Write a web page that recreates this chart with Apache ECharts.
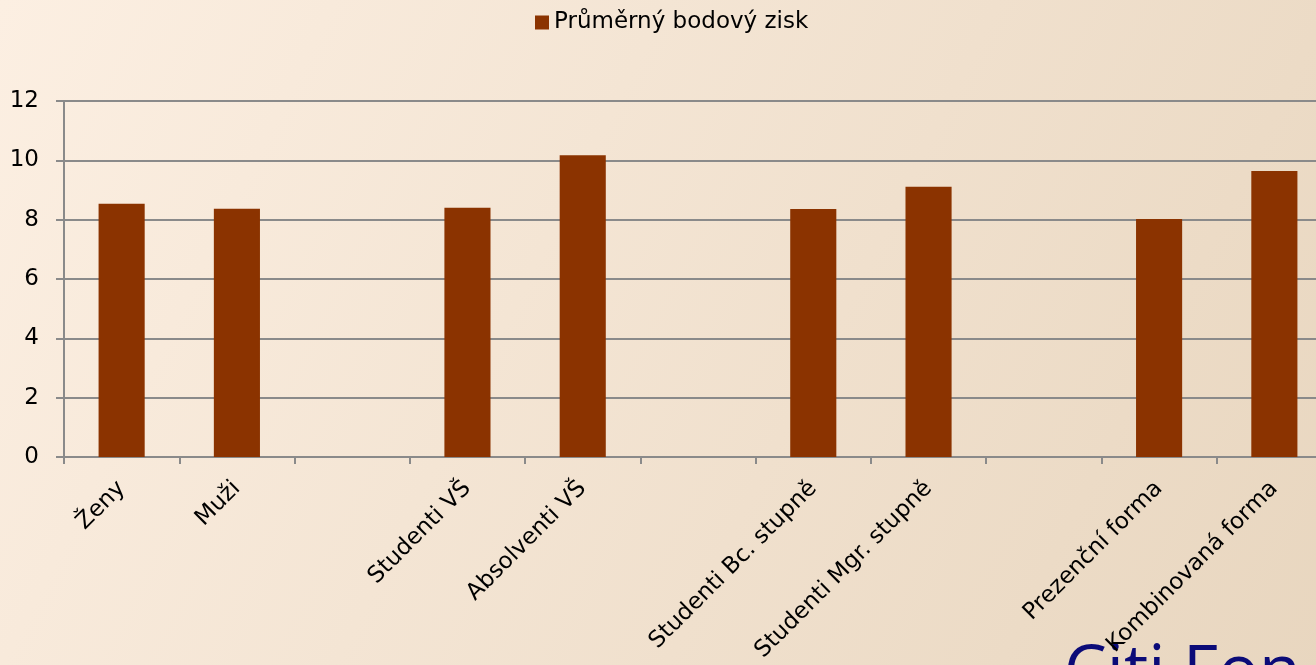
<!DOCTYPE html>
<html>
<head>
<meta charset="utf-8">
<script src="https://cdn.jsdelivr.net/npm/echarts@6/dist/echarts.min.js"></script>
<style>
html,body{margin:0;padding:0;width:1316px;height:665px;overflow:hidden;}
#c{width:1332px;height:665px;}
</style>
</head>
<body>
<div id="c"></div>
<script>
const categories = ['Ženy', 'Muži', '', 'Studenti VŠ', 'Absolventi VŠ', '', 'Studenti Bc. stupně', 'Studenti Mgr. stupně', '', 'Prezenční forma', 'Kombinovaná forma'];
const values = [8.54, 8.37, null, 8.40, 10.17, null, 8.36, 9.11, null, 8.02, 9.64];
const seriesName = 'Průměrný bodový zisk';
const yTicks = { min: 0, max: 12, interval: 2 };

const FONT = 'DejaVu Sans';
const FS = 23;
const chart = echarts.init(document.getElementById('c'), null, { renderer: 'canvas' });
chart.setOption({
  backgroundColor: {
    type: 'linear', x: 0, y: 0, x2: 1, y2: 1,
    colorStops: [{ offset: 0, color: '#fcefe2' }, { offset: 1, color: '#e8d6bf' }]
  },
  textStyle: { fontFamily: FONT },
  animation: false,
  legend: {
    left: 530, top: 6,
    itemWidth: 14, itemHeight: 14, itemGap: 6,
    icon: 'rect',
    textStyle: { fontFamily: FONT, fontSize: FS, color: '#000' },
    data: [seriesName]
  },
  grid: { left: 64, top: 101, bottom: 208, right: 0, containLabel: false },
  xAxis: {
    type: 'category',
    data: categories,
    axisLine: { lineStyle: { color: '#8a8a8a', width: 2 } },
    axisTick: { show: true, length: 7, lineStyle: { color: '#8a8a8a', width: 2 } },
    axisLabel: { rotate: 45, margin: 28, interval: 0, fontFamily: FONT, fontSize: FS, color: '#000' }
  },
  yAxis: {
    type: 'value',
    min: yTicks.min, max: yTicks.max, interval: yTicks.interval,
    axisLine: { show: true, lineStyle: { color: '#8a8a8a', width: 2 } },
    axisTick: { show: true, length: 8, lineStyle: { color: '#8a8a8a', width: 2 } },
    splitLine: { lineStyle: { color: '#8a8a8a', width: 2 } },
    axisLabel: { margin: 25, fontFamily: FONT, fontSize: FS, color: '#000' }
  },
  series: [{
    name: seriesName,
    type: 'bar',
    data: values,
    barWidth: '40%',
    itemStyle: { color: '#8b3300' }
  }],
  graphic: [{
    type: 'text', left: 1064, top: 640,
    style: { text: 'Citi Fon', fontFamily: 'Open Sans', fontSize: 68, fill: '#0b0b78' },
    z: -1
  }]
});
</script>
</body>
</html>
